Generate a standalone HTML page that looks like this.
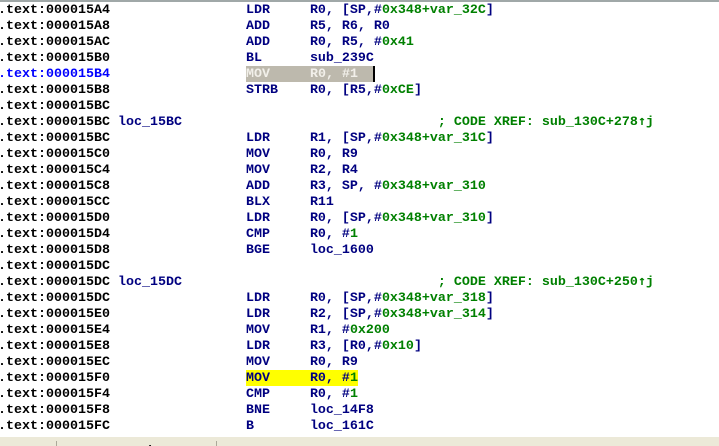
<!DOCTYPE html>
<html>
<head>
<meta charset="utf-8">
<style>
html,body{margin:0;padding:0;background:#fff;width:719px;height:446px;overflow:hidden}
#top{position:absolute;left:0;top:0;width:719px;height:2px;background:#a0a8a8}
.hl{position:absolute;height:16px}
pre{position:absolute;left:-2px;top:3px;margin:0;font:bold 13.33px/16px "Liberation Mono",monospace;color:#000080;white-space:pre}
pre i{font-style:normal;color:#000}
pre b{font-weight:bold;color:#008000}
pre u{text-decoration:none;color:#0000ff}
pre s{text-decoration:none;color:#f2f0ea}
pre em{font:bold 13.33px/0 "DejaVu Sans Mono",monospace;color:#008000}
#bar{position:absolute;left:0;top:437px;width:719px;height:9px;background:#ece9d8;overflow:hidden}
#bar span{position:absolute;top:7px;font:bold 12px/14px "Liberation Mono",monospace;color:#000}
#bar div{position:absolute;top:4px;width:1px;height:5px;background:#aca899}
</style>
</head>
<body>
<div id="top"></div>
<div class="hl" style="left:246px;top:66px;width:127px;background:#bdb9ad"></div>
<div class="hl" style="left:373px;top:66px;width:2px;background:#000"></div>
<div class="hl" style="left:246px;top:370px;width:112px;background:#ffff00"></div>
<pre><i>.text:000015A4</i>                 LDR     R0, [SP,#<b>0x348+var_32C</b>]
<i>.text:000015A8</i>                 ADD     R5, R6, R0
<i>.text:000015AC</i>                 ADD     R0, R5, #<b>0x41</b>
<i>.text:000015B0</i>                 BL      sub_239C
<u>.text:000015B4</u>                 <s>MOV     R0, #1</s>
<i>.text:000015B8</i>                 STRB    R0, [R5,#<b>0xCE</b>]
<i>.text:000015BC</i>
<i>.text:000015BC</i> loc_15BC                                <b>; CODE XREF: sub_130C+278<em>↑</em>j</b>
<i>.text:000015BC</i>                 LDR     R1, [SP,#<b>0x348+var_31C</b>]
<i>.text:000015C0</i>                 MOV     R0, R9
<i>.text:000015C4</i>                 MOV     R2, R4
<i>.text:000015C8</i>                 ADD     R3, SP, #<b>0x348+var_310</b>
<i>.text:000015CC</i>                 BLX     R11
<i>.text:000015D0</i>                 LDR     R0, [SP,#<b>0x348+var_310</b>]
<i>.text:000015D4</i>                 CMP     R0, #<b>1</b>
<i>.text:000015D8</i>                 BGE     loc_1600
<i>.text:000015DC</i>
<i>.text:000015DC</i> loc_15DC                                <b>; CODE XREF: sub_130C+250<em>↑</em>j</b>
<i>.text:000015DC</i>                 LDR     R0, [SP,#<b>0x348+var_318</b>]
<i>.text:000015E0</i>                 LDR     R2, [SP,#<b>0x348+var_314</b>]
<i>.text:000015E4</i>                 MOV     R1, #<b>0x200</b>
<i>.text:000015E8</i>                 LDR     R3, [R0,#<b>0x10</b>]
<i>.text:000015EC</i>                 MOV     R0, R9
<i>.text:000015F0</i>                 MOV     R0, #<b>1</b>
<i>.text:000015F4</i>                 CMP     R0, #<b>1</b>
<i>.text:000015F8</i>                 BNE     loc_14F8
<i>.text:000015FC</i>                 B       loc_161C</pre>
<div id="bar">
<span style="left:0">000015F4</span>
<div style="left:56px"></div>
<span style="left:62px">000015F4: sub_130C+2E8</span>
<div style="left:216px"></div>
</div>
</body>
</html>
